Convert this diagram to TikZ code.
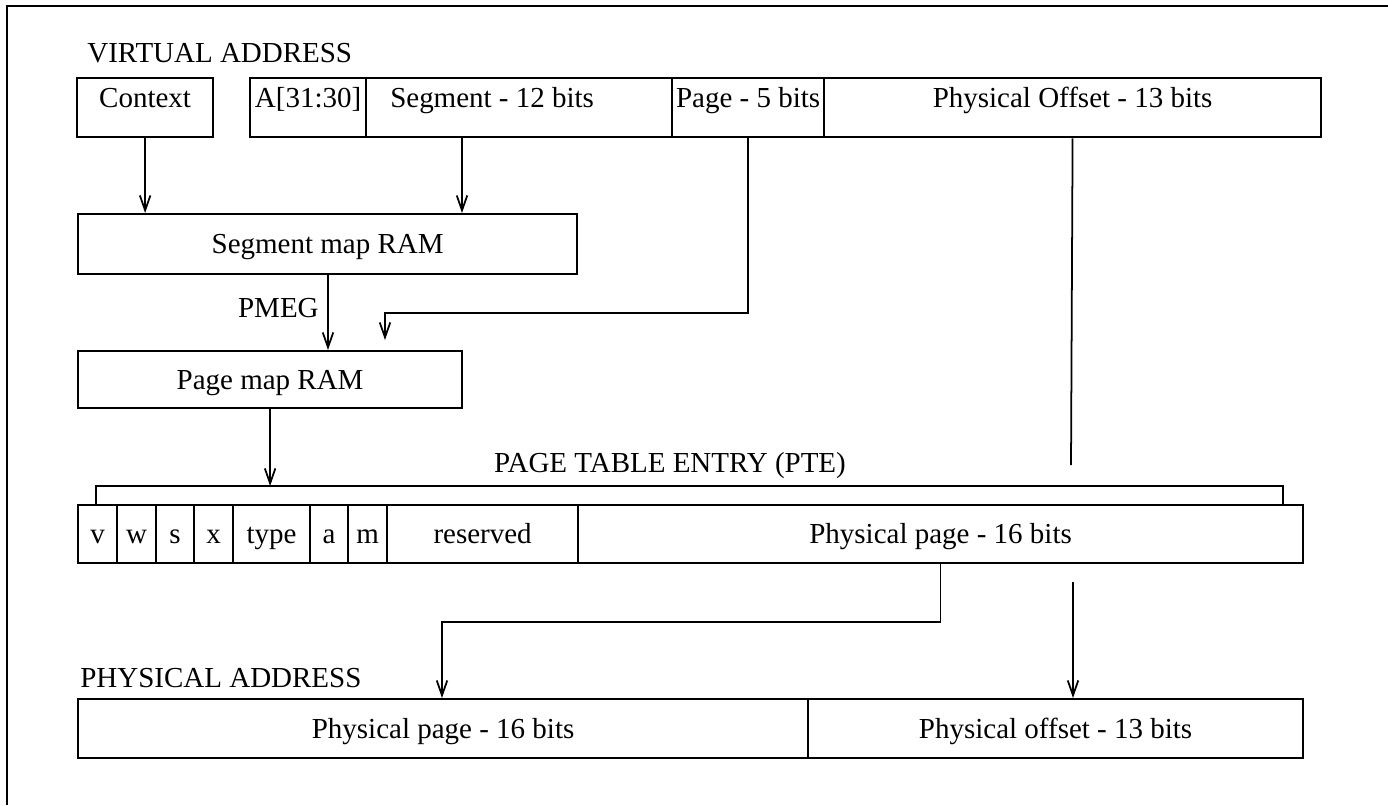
\documentclass[tikz,border=0pt]{standalone}
\usepackage{fontspec}
\setmainfont{Liberation Serif}
\usetikzlibrary{arrows.meta}

\begin{document}
\begin{tikzpicture}[x=0.02cm, y=-0.02cm, >={Straight Barb[length=8.5pt,width=6pt]},
    font=\fontsize{16.5}{19}\selectfont,
    field/.style={draw, line width=1.3pt, anchor=north west, inner sep=0pt,
        text height=11pt, text depth=0pt, minimum height=1.18cm},
    vafield/.style={field, text height=5pt, text depth=5pt},
    lbl/.style={inner sep=0pt, text height=11pt, text depth=0pt},
    conn/.style={line width=1pt}]
    % Sun-3 style address translation: virtual address -> PTE -> physical address.
    \useasboundingbox (0,0) rectangle (1388,805);
    \draw[line width=1.2pt] (7,805) -- (7,6) -- (1388,6);

    \node[lbl, anchor=west] (va_title) at (87,53) {VIRTUAL ADDRESS};
    \node[vafield, minimum width=2.72cm] (ctx) at (76,77) {Context};
    \node[vafield, minimum width=2.32cm] (va_a) at (249,77) {A[31:30]};
    \node[vafield, minimum width=6.12cm] (va_seg) at (365,77) {Segment - 12 bits\rule{1.08cm}{0pt}};
    \node[vafield, minimum width=3.04cm] (va_page) at (671,77) {Page - 5 bits};
    \node[vafield, minimum width=9.94cm] (va_off) at (823,77) {Physical Offset - 13 bits};

    \node[field, minimum width=9.98cm, minimum height=1.2cm] (smr) at (77,213) {Segment map RAM};
    \node[field, minimum width=7.68cm, minimum height=1.14cm] (pmr) at (77,350) {Page map RAM};
    \node[lbl, anchor=east] (pmeg) at (319,308) {PMEG};

    \node[lbl] (pte_title) at (670,463) {PAGE TABLE ENTRY (PTE)};
    \node[field, minimum width=0.78cm, minimum height=1.16cm] (pte_v) at (77,504) {v};
    \node[field, minimum width=0.78cm, minimum height=1.16cm] (pte_w) at (116,504) {w};
    \node[field, minimum width=0.76cm, minimum height=1.16cm] (pte_s) at (155,504) {s};
    \node[field, minimum width=0.78cm, minimum height=1.16cm] (pte_x) at (193,504) {x};
    \node[field, minimum width=1.54cm, minimum height=1.16cm] (pte_type) at (232,504) {type};
    \node[field, minimum width=0.76cm, minimum height=1.16cm] (pte_a) at (309,504) {a};
    \node[field, minimum width=0.78cm, minimum height=1.16cm] (pte_m) at (347,504) {m};
    \node[field, minimum width=3.82cm, minimum height=1.16cm] (pte_res) at (386,504) {reserved};
    \node[field, minimum width=14.5cm, minimum height=1.16cm] (pte_pp) at (577,504) {Physical page - 16 bits};

    \node[lbl, anchor=west] (pa_title) at (80,678) {PHYSICAL ADDRESS};
    \node[field, minimum width=14.6cm] (pa_page) at (77,698) {Physical page - 16 bits};
    \node[field, minimum width=9.9cm] (pa_off) at (807,698) {Physical offset - 13 bits};

    \coordinate (segtap) at (462,136);
    \coordinate (pgtip) at (385,340);
    \coordinate (pmegx) at (328,0);
    \coordinate (offend) at (1071,465);
    \coordinate (brl) at (96,486);
    \coordinate (brr) at (1283,486);
    \coordinate (ppx) at (442,0);
    \coordinate (offtap) at (1073,582);

    \draw[conn, ->] (ctx.south) -- (ctx.south |- smr.north);
    \draw[conn, ->] (segtap) -- (segtap |- smr.north);
    \draw[conn, ->] (va_page.south) -- ++(0,175) -| (pgtip);
    \draw[conn, ->] (smr.south -| pmegx) -- (pmr.north -| pmegx);
    \draw[conn] (va_off.south) -- (offend);
    \draw[conn, ->] (pmr.south) -- (pmr.south |- brl);
    \draw[line width=1.3pt] (brl |- pte_v.north) -- (brl) -- (brr) -- (brr |- pte_pp.north);
    \draw[conn, ->] (pte_pp.south) -- ++(0,58) -| (pa_page.north -| ppx);
    \draw[conn, ->] (offtap) -- (offtap |- pa_off.north);
\end{tikzpicture}
\end{document}
